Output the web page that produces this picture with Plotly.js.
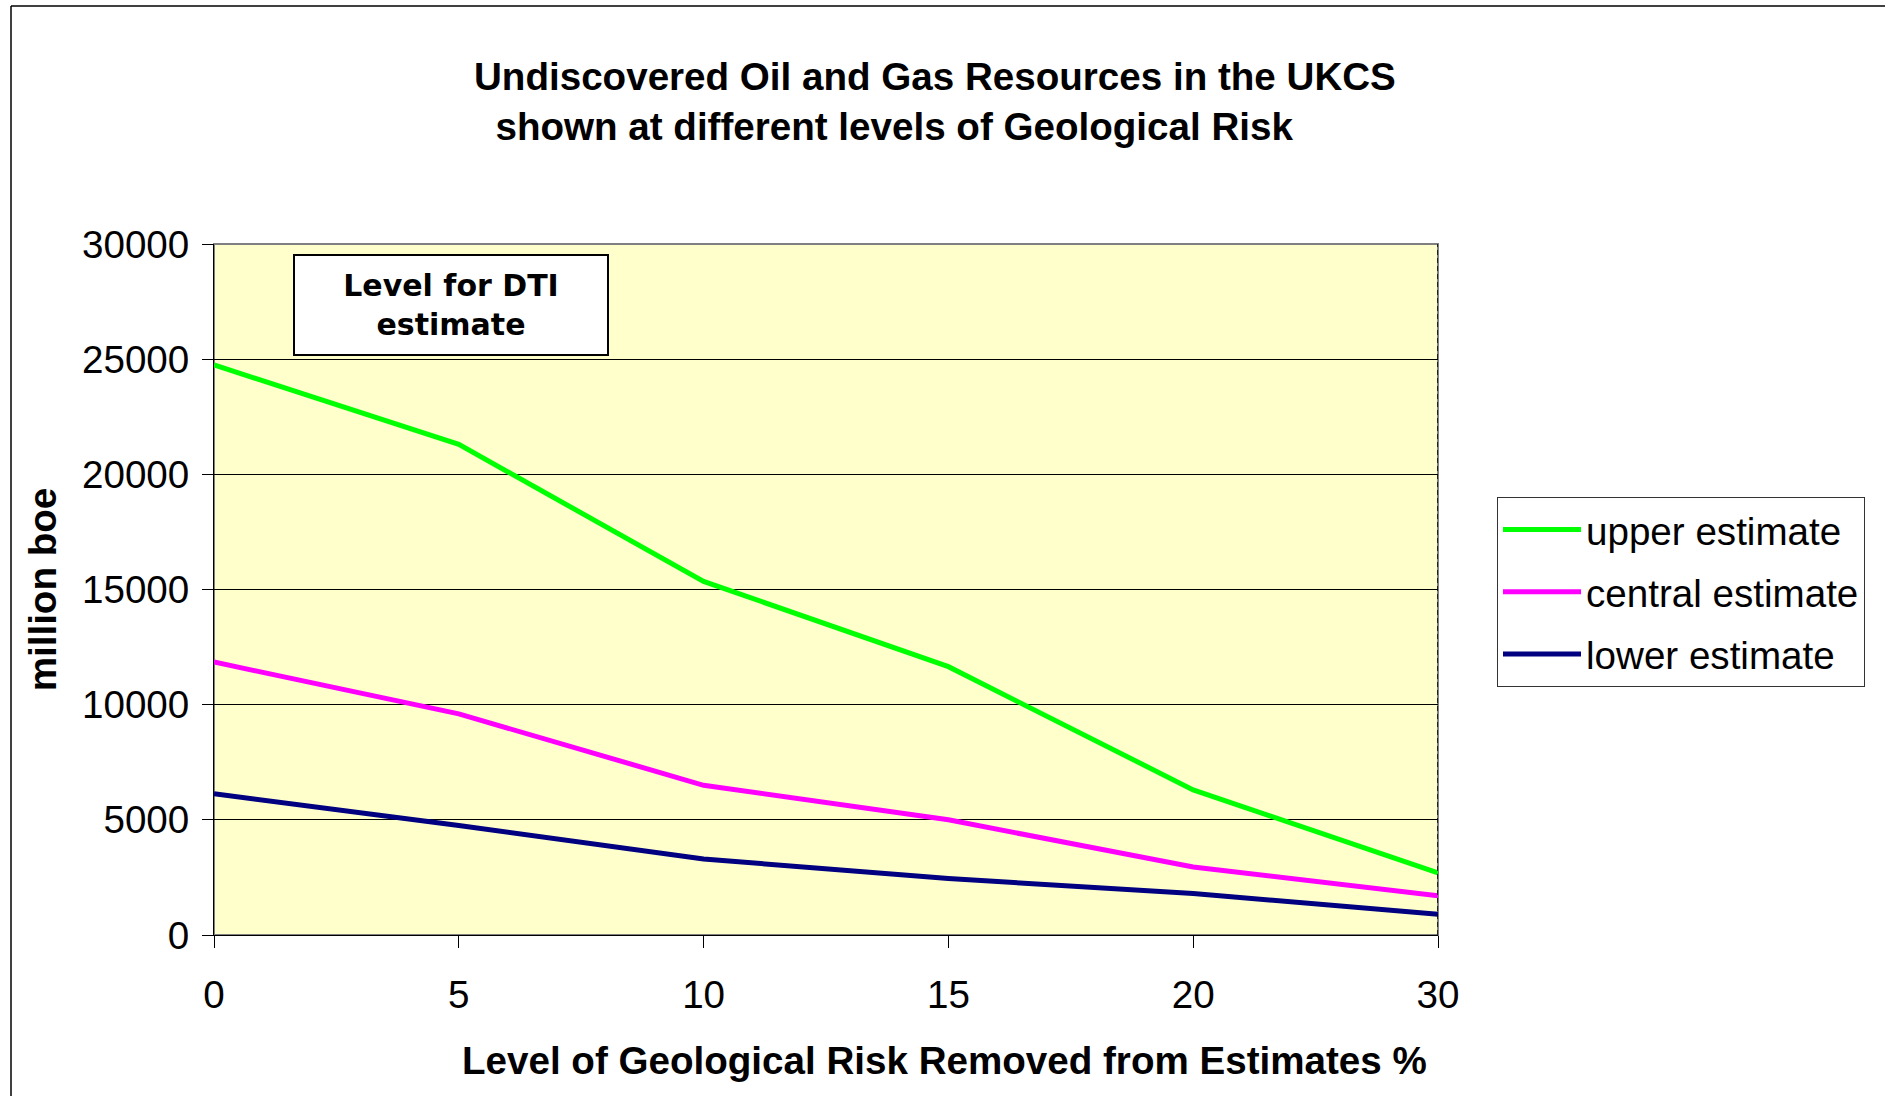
<!DOCTYPE html>
<html>
<head>
<meta charset="utf-8">
<script src="https://cdn.plot.ly/plotly-3.0.1.min.js"></script>
<style>
  html, body { margin: 0; padding: 0; background: #fff; }
  #chart { width: 1885px; height: 1096px; }
</style>
</head>
<body>
<div id="chart"></div>
<script>
// ---- data ----
var riskLevels = ['0', '5', '10', '15', '20', '30'];
var upperEstimate = [24750, 21300, 15350, 11650, 6300, 2700];
var centralEstimate = [11850, 9600, 6500, 5000, 2950, 1700];
var lowerEstimate = [6130, 4750, 3300, 2450, 1800, 900];
var seriesNames = ['upper estimate', 'central estimate', 'lower estimate'];
var yTickValues = [0, 5000, 10000, 15000, 20000, 25000, 30000];
var dtiLevel = '5';
var titleLine1 = 'Undiscovered Oil and Gas Resources in the UKCS';
var titleLine2 = 'shown at different levels of Geological Risk';
var xTitle = 'Level of Geological Risk Removed from Estimates %';
var yTitle = 'million boe';
var dtiLabel = 'Level for DTI<br>estimate';

var FONT = 'Liberation Sans, Arial, sans-serif';
var FS = 38.6;

var traces = [
  { x: riskLevels, y: upperEstimate, name: seriesNames[0], color: '#00FF00' },
  { x: riskLevels, y: centralEstimate, name: seriesNames[1], color: '#FF00FF' },
  { x: riskLevels, y: lowerEstimate, name: seriesNames[2], color: '#000080' }
].map(function (s, i) {
  return {
    type: 'scatter', mode: 'lines', x: s.x, y: s.y, name: s.name,
    legendgroup: 'g' + i,
    line: { color: s.color, width: 5 },
    hoverinfo: 'x+y+name'
  };
});

// paper-coordinate helpers (plot area: px 214..1438, py 244..935)
function px(v) { return (v - 214) / 1224; }
function py(v) { return (935 - v) / 691; }

var layout = {
  width: 1885, height: 1096,
  margin: { l: 214, r: 447, t: 244, b: 161, pad: 0 },
  paper_bgcolor: '#ffffff',
  plot_bgcolor: '#FFFFCC',
  font: { family: FONT, size: FS, color: '#000' },
  title: {
    text: titleLine1 + '<br>&nbsp;&nbsp;' + titleLine2,
    font: { family: FONT, size: FS, weight: 'bold', color: '#000' },
    xref: 'container', yref: 'container',
    x: 474 / 1885, xanchor: 'left',
    y: 1 - 90 / 1096, yanchor: 'top'
  },
  showlegend: true,
  legend: {
    x: px(1497), xanchor: 'left',
    y: py(497), yanchor: 'top',
    bgcolor: '#ffffff', bordercolor: '#333333', borderwidth: 1,
    font: { family: FONT, size: FS, color: '#000' },
    traceorder: 'grouped', tracegroupgap: 9,
    itemwidth: 78
  },
  xaxis: {
    type: 'category',
    categoryorder: 'array', categoryarray: riskLevels,
    range: [0, riskLevels.length - 1],
    showgrid: false, zeroline: false,
    showline: true, linecolor: '#000', linewidth: 1,
    ticks: 'outside', ticklen: 12, tickcolor: '#000', tickwidth: 1,
    ticklabelstandoff: 14,
    tickfont: { family: FONT, size: FS, color: '#000' },
    fixedrange: true
  },
  yaxis: {
    range: [0, 30000],
    tickvals: yTickValues,
    ticktext: yTickValues.map(String),
    showgrid: true, gridcolor: '#000', gridwidth: 1,
    zeroline: false,
    showline: true, linecolor: '#000', linewidth: 1,
    ticks: 'outside', ticklen: 11, tickcolor: '#000', tickwidth: 1,
    ticklabelstandoff: 5,
    tickfont: { family: FONT, size: FS, color: '#000' },
    title: { text: yTitle, font: { family: FONT, size: FS, weight: 'bold', color: '#000' }, standoff: 13 },
    fixedrange: true
  },
  shapes: [
    { type: 'rect', xref: 'paper', yref: 'paper', x0: 0, x1: 1, y0: 0, y1: 1,
      line: { color: '#808080', width: 2 }, layer: 'below' },
    { type: 'line', xref: 'x', yref: 'y', x0: dtiLevel, x1: dtiLevel, y0: 0, y1: 30000,
      line: { color: '#000', width: 1.5, dash: '5px,3px' }, layer: 'above' },
    { type: 'line', xref: 'paper', yref: 'paper', x0: px(11), x1: px(1885), y0: py(6), y1: py(6),
      line: { color: '#000', width: 1.5 } },
    { type: 'line', xref: 'paper', yref: 'paper', x0: px(11), x1: px(11), y0: py(6), y1: py(1100),
      line: { color: '#000', width: 1.5 } }
  ],
  annotations: [
    {
      xref: 'paper', yref: 'paper',
      x: px(451), y: py(305), xanchor: 'center', yanchor: 'middle',
      text: '<b>' + dtiLabel + '</b>',
      showarrow: false,
      font: { family: 'DejaVu Sans, Verdana, sans-serif', size: 30, color: '#000' },
      bgcolor: '#ffffff', bordercolor: '#000', borderwidth: 2,
      width: 310, height: 96, align: 'center', valign: 'middle', borderpad: 1
    },
    {
      xref: 'paper', yref: 'paper',
      x: px(944), y: py(1060), xanchor: 'center', yanchor: 'middle',
      text: xTitle, showarrow: false,
      font: { family: FONT, size: FS, weight: 'bold', color: '#000' }
    }
  ]
};

Plotly.newPlot('chart', traces, layout, { displayModeBar: false, responsive: false });
</script>
</body>
</html>
